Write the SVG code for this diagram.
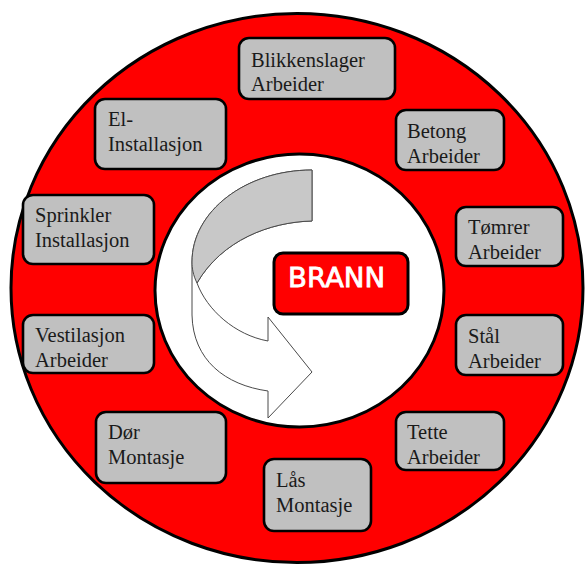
<svg xmlns="http://www.w3.org/2000/svg" width="585" height="564" viewBox="0 0 585 564">
  <style>
    .ring { fill: #ff0000; stroke: #000; stroke-width: 3; }
    .hub { fill: #ffffff; stroke: #000; stroke-width: 3; }
    .box { fill: #c0c0c0; stroke: #000; stroke-width: 2.6; }
    .lbl { font-family: "Liberation Serif", "Times New Roman", serif; font-size: 20.5px; fill: #1a1a1a; }
    .core { fill: #ff0000; stroke: #000; stroke-width: 3; }
    .core-lbl { font-family: "DejaVu Sans", "Comic Sans MS", sans-serif; font-size: 27px; fill: #ffffff; stroke: #ffffff; stroke-width: 0.8; }
    .ribbon { fill: #ffffff; stroke: #4a4a4a; stroke-width: 1; stroke-linejoin: miter; }
    .ribbon-back { fill: #c8c8c8; stroke: #4a4a4a; stroke-width: 1; }
  </style>

  <!-- background ring -->
  <ellipse class="ring" cx="297" cy="288" rx="286" ry="274.5"/>
  <ellipse class="hub" cx="299.5" cy="290.5" rx="144.5" ry="136.5"/>

  <!-- curved arrow in the hub -->
  <g id="cycle-arrow">
    <path class="ribbon" d="M312,170 C246,170 192,211 192,262 L192,315 C193,360 225,385 268,391 L268,418 L312,372 L268,317 L268,341 C235,335 207,310 197,283 C222,240 270,222 312,221 Z"/>
    <path class="ribbon-back" d="M312,170 L312,221 C270,222 222,240 197,283 C193,275 192,268 192,262 C192,211 246,170 312,170 Z"/>
  </g>

  <!-- centre node -->
  <g id="brann">
    <rect class="core" x="274" y="253" width="134" height="61" rx="9"/>
    <text class="core-lbl" x="288" y="287" textLength="97" lengthAdjust="spacingAndGlyphs">BRANN</text>
  </g>

  <!-- trade nodes around the ring -->
  <g id="blikkenslager">
    <rect class="box" x="239" y="38" width="156" height="61" rx="10"/>
    <text class="lbl" x="251" y="67">Blikkenslager</text>
    <text class="lbl" x="251" y="91">Arbeider</text>
  </g>
  <g id="betong">
    <rect class="box" x="396" y="110" width="108" height="60" rx="10"/>
    <text class="lbl" x="407" y="138">Betong</text>
    <text class="lbl" x="407" y="163">Arbeider</text>
  </g>
  <g id="tomrer">
    <rect class="box" x="456" y="207" width="107" height="59" rx="10"/>
    <text class="lbl" x="468" y="234">Tømrer</text>
    <text class="lbl" x="468" y="259">Arbeider</text>
  </g>
  <g id="staal">
    <rect class="box" x="456" y="315" width="107" height="60" rx="10"/>
    <text class="lbl" x="468" y="343">Stål</text>
    <text class="lbl" x="468" y="368">Arbeider</text>
  </g>
  <g id="tette">
    <rect class="box" x="396" y="412" width="108" height="58" rx="10"/>
    <text class="lbl" x="407" y="439">Tette</text>
    <text class="lbl" x="407" y="464">Arbeider</text>
  </g>
  <g id="laas">
    <rect class="box" x="264" y="459" width="107" height="72" rx="10"/>
    <text class="lbl" x="276" y="487">Lås</text>
    <text class="lbl" x="276" y="512">Montasje</text>
  </g>
  <g id="dor">
    <rect class="box" x="96" y="412" width="130" height="71" rx="10"/>
    <text class="lbl" x="108" y="439">Dør</text>
    <text class="lbl" x="108" y="464">Montasje</text>
  </g>
  <g id="ventilasjon">
    <rect class="box" x="23" y="315" width="131" height="58" rx="10"/>
    <text class="lbl" x="35" y="342">Vestilasjon</text>
    <text class="lbl" x="35" y="367">Arbeider</text>
  </g>
  <g id="sprinkler">
    <rect class="box" x="23" y="195" width="131" height="69" rx="10"/>
    <text class="lbl" x="35" y="222">Sprinkler</text>
    <text class="lbl" x="35" y="247">Installasjon</text>
  </g>
  <g id="el">
    <rect class="box" x="95" y="99" width="131" height="70" rx="10"/>
    <text class="lbl" x="108" y="126">El-</text>
    <text class="lbl" x="108" y="151">Installasjon</text>
  </g>

  <!-- no connectors between nodes -->
  <g id="connectors"/>
</svg>
